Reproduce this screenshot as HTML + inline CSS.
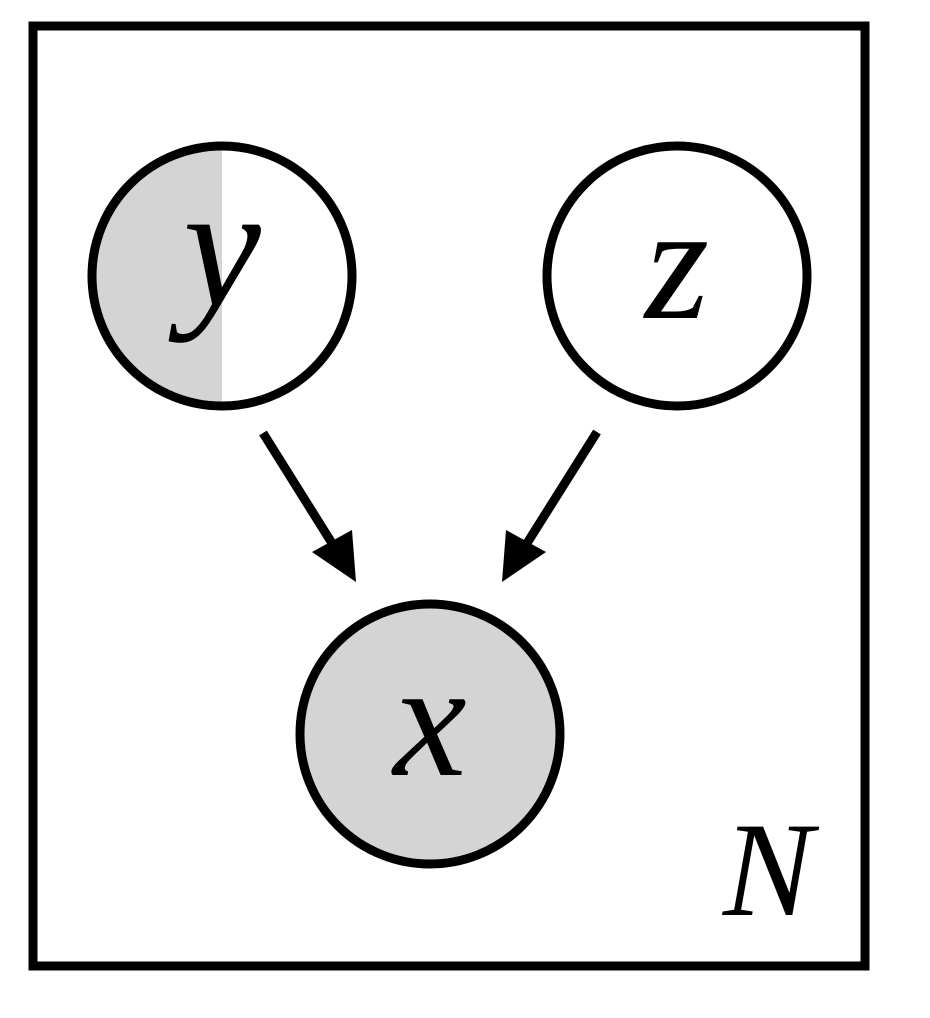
<!DOCTYPE html>
<html><head><style>
html,body{margin:0;padding:0;background:#fff;}
svg{display:block;}
text{font-family:"Liberation Serif","DejaVu Serif",serif;font-style:italic;}
</style></head><body>
<svg width="930" height="1018" viewBox="0 0 930 1018" xmlns="http://www.w3.org/2000/svg">
<defs>
<clipPath id="lh"><rect x="0" y="0" width="222" height="1018"/></clipPath>
</defs>
<rect x="33" y="26" width="832" height="940" fill="#fff" stroke="#000" stroke-width="9"/>
<circle cx="222" cy="276" r="130" fill="#fff"/>
<circle cx="222" cy="276" r="130" fill="#d4d4d4" clip-path="url(#lh)"/>
<circle cx="222" cy="276" r="130" fill="none" stroke="#000" stroke-width="9"/>
<circle cx="677" cy="276" r="130" fill="#fff" stroke="#000" stroke-width="9"/>
<circle cx="430" cy="734" r="130" fill="#d4d4d4" stroke="#000" stroke-width="9"/>
<line x1="263" y1="433" x2="335" y2="548" stroke="#000" stroke-width="9"/>
<polygon points="356,582 312,552 352,530" fill="#000"/>
<line x1="597" y1="432" x2="524" y2="548" stroke="#000" stroke-width="9"/>
<polygon points="502,582 506,530 546,552" fill="#000"/>
<text x="222" y="305" font-size="175" text-anchor="middle">y</text>
<text x="677" y="318" font-size="165" text-anchor="middle">z</text>
<text x="430" y="775" font-size="165" text-anchor="middle">x</text>
<text x="768" y="915" font-size="135" text-anchor="middle">N</text>
</svg>
</body></html>
